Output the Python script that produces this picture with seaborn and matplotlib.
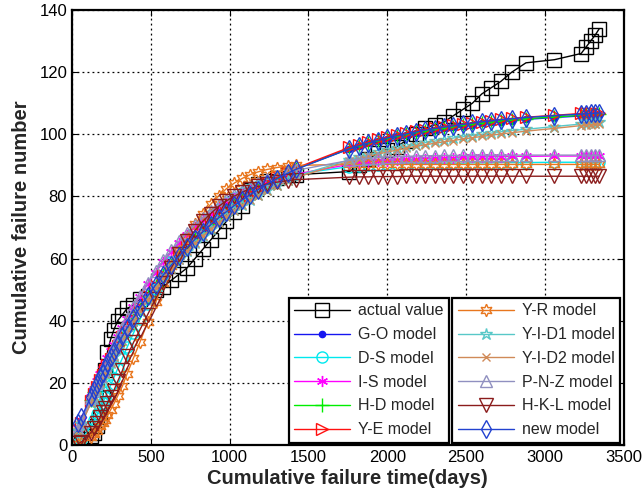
import matplotlib
matplotlib.use("Agg")
import matplotlib.pyplot as plt
import seaborn as sns

sns.set_style("white")
plt.rcParams["font.family"] = ["Liberation Sans", "DejaVu Sans"]

# cumulative failure time (days)
t_days = [40, 60, 120, 140, 160, 180, 195, 210, 225, 245, 265, 290, 320, 350, 390,
          430, 480, 530, 580, 630, 680, 730, 780, 830, 880, 930, 980, 1030, 1080,
          1130, 1180, 1240, 1300, 1370, 1420, 1760, 1820, 1880, 1940, 2000, 2060,
          2120, 2180, 2240, 2300, 2360, 2420, 2480, 2540, 2600, 2660, 2720, 2790,
          2880, 3060, 3230, 3260, 3290, 3320, 3345]

actual = [1, 2, 3, 4, 6, 9, 15, 24, 30, 34, 37, 40, 42, 44, 45,
          47, 48, 50, 51, 53, 55, 57, 60, 63, 66, 69, 72, 75, 77,
          82, 84, 85, 86, 87, 87, 88, 90, 92, 94, 95, 96,
          98, 100, 102, 103, 104, 106, 108, 110, 113, 115, 117, 120,
          123, 124, 126, 128, 130, 132, 134]

go_model = [5.1, 7.6, 14.7, 17.0, 19.1, 21.3, 22.9, 24.4, 25.9, 27.9, 29.8, 32.2, 34.9, 37.5, 40.9,
            44.1, 47.9, 51.4, 54.8, 57.9, 60.9, 63.7, 66.3, 68.8, 71.1, 73.3, 75.3, 77.3, 79.1,
            80.8, 82.4, 84.2, 85.9, 87.7, 88.9, 95.4, 96.3, 97.1, 97.9, 98.6, 99.3,
            99.9, 100.4, 101.0, 101.5, 101.9, 102.4, 102.8, 103.1, 103.5, 103.8, 104.1, 104.4,
            104.8, 105.4, 105.9, 106.0, 106.0, 106.1, 106.2]

ds_model = [0.8, 1.7, 6.1, 7.9, 9.9, 12.0, 13.6, 15.3, 17.0, 19.3, 21.6, 24.6, 28.0, 31.5, 36.0,
            40.4, 45.5, 50.3, 54.8, 58.8, 62.5, 65.9, 68.9, 71.6, 73.9, 76.1, 77.9, 79.6, 81.1,
            82.3, 83.5, 84.7, 85.6, 86.6, 87.2, 89.6, 89.9, 90.0, 90.2, 90.3, 90.4,
            90.5, 90.5, 90.6, 90.6, 90.7, 90.7, 90.7, 90.8, 90.8, 90.8, 90.9, 90.9,
            90.9, 91.0, 91.0, 91.0, 91.0, 91.0, 91.0]

is_model = [5.4, 8.0, 15.6, 18.1, 20.5, 22.8, 24.5, 26.2, 27.9, 30.1, 32.2, 34.8, 37.8, 40.6, 44.3,
            47.7, 51.8, 55.5, 58.9, 62.1, 65.0, 67.7, 70.1, 72.4, 74.4, 76.2, 77.9, 79.4, 80.8,
            82.0, 83.1, 84.4, 85.4, 86.5, 87.2, 90.3, 90.7, 91.0, 91.3, 91.5, 91.7,
            91.9, 92.0, 92.2, 92.3, 92.4, 92.5, 92.6, 92.7, 92.7, 92.8, 92.8, 92.9,
            92.9, 93.0, 93.0, 93.0, 93.1, 93.1, 93.1]

hd_model = [5.0, 7.5, 14.6, 16.9, 19.0, 21.2, 22.8, 24.3, 25.8, 27.8, 29.7, 32.1, 34.8, 37.4, 40.8,
            44.0, 47.8, 51.3, 54.7, 57.8, 60.8, 63.6, 66.2, 68.7, 71.0, 73.2, 75.3, 77.2, 79.0,
            80.7, 82.3, 84.1, 85.8, 87.6, 88.8, 95.4, 96.3, 97.2, 98.0, 98.7, 99.4,
            100.0, 100.6, 101.1, 101.6, 102.1, 102.5, 102.9, 103.3, 103.7, 104.0, 104.3, 104.6,
            105.0, 105.6, 106.1, 106.2, 106.3, 106.3, 106.4]

ye_model = [4.8, 7.2, 14.2, 16.5, 18.7, 20.9, 22.5, 24.0, 25.6, 27.6, 29.5, 31.9, 34.7, 37.3, 40.7,
            44.0, 47.8, 51.3, 54.7, 57.8, 60.8, 63.6, 66.3, 68.8, 71.1, 73.3, 75.4, 77.4, 79.2,
            80.9, 82.5, 84.4, 86.1, 87.9, 89.1, 95.8, 96.7, 97.6, 98.4, 99.1, 99.8,
            100.4, 101.0, 101.5, 102.0, 102.5, 102.9, 103.3, 103.7, 104.1, 104.4, 104.8, 105.1,
            105.5, 106.1, 106.7, 106.8, 106.9, 106.9, 107.0]

yr_model = [0.3, 0.6, 2.5, 3.5, 4.5, 6.0, 7.0, 8.2, 9.5, 11.3, 13.2, 15.8, 19.0, 23.0, 28.0,
            33.0, 39.5, 46.0, 52.0, 57.5, 62.5, 67.0, 71.0, 74.5, 77.5, 80.2, 82.5, 84.3, 85.8,
            87.0, 87.9, 88.7, 89.3, 89.8, 90.0, 90.3, 90.3, 90.3, 90.3, 90.3, 90.3,
            90.3, 90.3, 90.3, 90.3, 90.3, 90.3, 90.3, 90.3, 90.3, 90.3, 90.3, 90.3,
            90.3, 90.3, 90.3, 90.3, 90.3, 90.3, 90.3]

yid1_model = [4.6, 6.9, 13.6, 15.8, 17.9, 20.0, 21.5, 23.1, 24.6, 26.5, 28.5, 30.9, 33.7, 36.4, 39.8,
              43.1, 46.9, 50.5, 53.8, 56.9, 59.8, 62.5, 65.0, 67.4, 69.6, 71.7, 73.7, 75.6, 77.3,
              78.9, 80.5, 82.2, 83.8, 85.4, 86.5, 91.8, 92.6, 93.4, 94.2, 94.9, 95.5,
              96.1, 96.7, 97.3, 97.8, 98.3, 98.8, 99.2, 99.6, 100.0, 100.4, 100.8, 101.2,
              101.6, 102.5, 103.3, 103.4, 103.6, 103.7, 103.8]

yid2_model = [4.5, 6.8, 13.5, 15.7, 17.8, 19.9, 21.4, 23.0, 24.5, 26.4, 28.4, 30.8, 33.6, 36.3, 39.7,
              43.0, 46.8, 50.4, 53.7, 56.8, 59.7, 62.4, 64.9, 67.3, 69.5, 71.6, 73.5, 75.4, 77.1,
              78.7, 80.2, 81.9, 83.4, 85.0, 86.1, 91.3, 92.1, 92.9, 93.6, 94.3, 94.9,
              95.5, 96.1, 96.6, 97.1, 97.6, 98.0, 98.5, 98.9, 99.3, 99.7, 100.1, 100.5,
              101.0, 101.9, 102.8, 102.9, 103.1, 103.2, 103.4]

pnz_model = [4.9, 7.5, 15.0, 17.5, 19.9, 22.3, 24.0, 25.7, 27.4, 29.7, 31.9, 34.6, 37.7, 40.6, 44.4,
             47.9, 52.1, 55.9, 59.4, 62.6, 65.6, 68.3, 70.8, 73.1, 75.2, 77.1, 78.8, 80.4, 81.8,
             83.1, 84.2, 85.5, 86.6, 87.7, 88.4, 91.6, 92.0, 92.3, 92.5, 92.7, 92.8,
             92.9, 93.0, 93.1, 93.1, 93.2, 93.2, 93.2, 93.3, 93.3, 93.3, 93.3, 93.3,
             93.3, 93.3, 93.3, 93.3, 93.3, 93.3, 93.3]

hkl_model = [0.5, 1.0, 4.0, 5.5, 7.0, 9.0, 10.5, 12.0, 13.5, 15.5, 17.5, 20.5, 24.0, 28.5, 33.0,
             37.0, 42.0, 47.0, 52.0, 57.0, 61.5, 65.5, 69.0, 72.0, 74.5, 76.8, 78.6, 80.1, 81.4,
             82.4, 83.2, 84.0, 84.6, 85.1, 85.4, 86.2, 86.3, 86.3, 86.4, 86.4, 86.4,
             86.5, 86.5, 86.5, 86.5, 86.5, 86.5, 86.5, 86.5, 86.5, 86.5, 86.5, 86.5,
             86.5, 86.5, 86.5, 86.5, 86.5, 86.5, 86.5]

new_model = [7.0, 9.0, 15.5, 17.6, 19.7, 21.8, 23.3, 24.8, 26.3, 28.2, 30.1, 32.4, 35.1, 37.7, 41.0,
             44.2, 48.0, 51.5, 54.8, 57.9, 60.8, 63.6, 66.2, 68.6, 70.9, 73.1, 75.1, 77.1, 78.9,
             80.6, 82.2, 84.0, 85.7, 87.5, 88.7, 95.3, 96.3, 97.2, 98.0, 98.8, 99.5,
             100.1, 100.7, 101.3, 101.8, 102.3, 102.7, 103.2, 103.6, 104.0, 104.3, 104.7, 105.0,
             105.4, 106.0, 106.5, 106.6, 106.7, 106.8, 106.9]

labels = ["actual value", "G-O model", "D-S model", "I-S model", "H-D model", "Y-E model",
          "Y-R model", "Y-I-D1 model", "Y-I-D2 model", "P-N-Z model", "H-K-L model", "new model"]
series = [actual, go_model, ds_model, is_model, hd_model, ye_model,
          yr_model, yid1_model, yid2_model, pnz_model, hkl_model, new_model]
colors = ["black", "#1515f0", "#00e8ee", "#ff00ff", "#00ee00", "#ff1010",
          "#e8761e", "#58c8c8", "#d08a58", "#9090c0", "#8b1c1c", "#2242d0"]
# MATLAB-like markers: asterisk for I-S, hexagram for Y-R, pentagram for Y-I-D1
markers = ["s", ".", "o", (6, 2, 0), "+", ">", (6, 1, 0), "*", "x", "^", "v", "d"]
msizes = [10, 9, 8, 8, 10, 9, 9, 9, 6, 9, 10, 9]
filled = [False, True, False, False, False, False, False, False, False, False, False, False]

fig = plt.figure(figsize=(6.43, 5.0), dpi=100)
ax = fig.add_axes([0.112, 0.11, 0.858, 0.87])

for y, lab, c, m, ms, f in zip(series, labels, colors, markers, msizes, filled):
    sns.lineplot(x=t_days, y=y, ax=ax, color=c, marker=m, markersize=ms,
                 markerfacecolor=c if f else "none", markeredgecolor=c,
                 markeredgewidth=1.0, linewidth=1.0, estimator=None, sort=False,
                 label=lab, legend=False)

ax.set_xlim(0, 3500)
ax.set_ylim(0, 140)
ax.set_xticks(range(0, 3501, 500))
ax.set_yticks(range(0, 141, 20))
ax.grid(True, linestyle=(0, (1.5, 2.5)), color="black", linewidth=0.9)
ax.tick_params(direction="in", length=4, labelsize=12, colors="black",
               top=True, right=True, bottom=True, left=True)
for s in ax.spines.values():
    s.set_color("black")
    s.set_linewidth(1.6)

ax.set_xlabel("Cumulative failure time(days)", fontsize=14.5, fontweight="bold", labelpad=3)
ax.set_ylabel("Cumulative failure number", fontsize=14.5, fontweight="bold", labelpad=6)

handles = ax.get_lines()[:12]
leg_kw = dict(fontsize=11.5, frameon=True, fancybox=False, edgecolor="black",
              framealpha=1, handlelength=3.5, labelspacing=0.55, borderpad=0.35,
              handletextpad=0.5, borderaxespad=0)
leg1 = ax.legend(handles[:6], labels[:6], loc="lower left",
                 bbox_to_anchor=(0.393, 0.005), **leg_kw)
leg1.get_frame().set_linewidth(1.6)
ax.add_artist(leg1)
leg2 = ax.legend(handles[6:], labels[6:], loc="lower left",
                 bbox_to_anchor=(0.689, 0.005), **leg_kw)
leg2.get_frame().set_linewidth(1.6)

fig.savefig("out.png", dpi=100)
